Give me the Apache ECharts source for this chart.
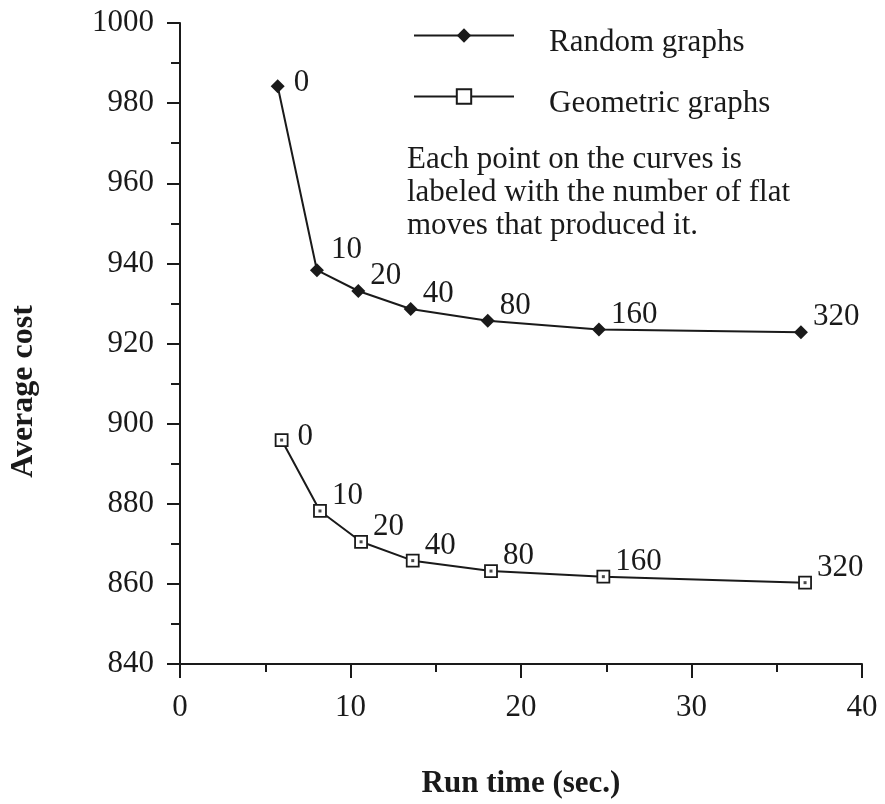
<!DOCTYPE html>
<html>
<head>
<meta charset="utf-8">
<script src="https://cdn.jsdelivr.net/npm/echarts@6/dist/echarts.min.js"></script>
<style>
  html, body { margin: 0; padding: 0; background: #fff; }
  #chart { width: 885px; height: 804px; }
</style>
</head>
<body>
<div id="chart"></div>
<script>
// values
const flatMoves = ["0", "10", "20", "40", "80", "160", "320"];
const randomTime = [5.73, 8.03, 10.46, 13.53, 18.05, 24.57, 36.42];
const randomCost = [984.2, 938.3, 933.1, 928.6, 925.7, 923.5, 922.8];
const geoTime = [5.96, 8.21, 10.62, 13.65, 18.24, 24.83, 36.66];
const geoCost = [895.9, 878.2, 870.5, 865.8, 863.2, 861.8, 860.3];
const xTicks = [0, 10, 20, 30, 40];
const yTicks = [840, 860, 880, 900, 920, 940, 960, 980, 1000];

const ink = "#1a1a1a";
const serif = "Liberation Serif";

function pairs(xs, ys) {
  return xs.map((x, i) => [x, ys[i]]);
}

// little nudges so the numbers sit like in the original
function labelOffset(first, i) {
  if (i === 0) return [4, -3];
  if (first && i === 1) return [2, -20];
  return [0, -15];
}

function labelled(xs, ys, first) {
  return pairs(xs, ys).map((p, i) => ({
    value: p,
    label: { offset: labelOffset(first, i) },
  }));
}

const numLabel = {
  show: true,
  position: "right",
  distance: 5,
  color: ink,
  fontFamily: serif,
  fontSize: 31,
  formatter: (p) => flatMoves[p.dataIndex],
};

let myChart = echarts.init(document.getElementById("chart"));
myChart.setOption({
  animation: false,
  backgroundColor: "#fff",
  title: {
    text: "Each point on the curves is\nlabeled with the number of flat\nmoves that produced it.",
    left: 402,
    top: 138,
    textStyle: {
      fontFamily: serif,
      fontSize: 31,
      fontWeight: "normal",
      color: ink,
      lineHeight: 33,
    },
  },
  legend: {
    orient: "vertical",
    left: 408,
    top: 8,
    itemWidth: 100,
    itemHeight: 18,
    itemGap: 16,
    data: ["Random graphs", "Geometric graphs"],
    formatter: (name) => "{t|" + name + "}",
    textStyle: {
      padding: [0, 0, 0, 30],
      rich: {
        t: {
          fontFamily: serif,
          fontSize: 31,
          color: ink,
          lineHeight: 30,
          padding: [14, 0, 0, 0],
        },
      },
    },
  },
  grid: {
    left: 180,
    right: 23,
    top: 23,
    bottom: 136,
  },
  xAxis: {
    type: "value",
    min: xTicks[0],
    max: xTicks[xTicks.length - 1],
    interval: 10,
    name: "Run time (sec.)",
    nameLocation: "middle",
    nameGap: 104,
    nameTextStyle: {
      fontFamily: serif,
      fontSize: 31,
      fontWeight: "bold",
      color: ink,
    },
    axisLine: { show: true, lineStyle: { color: ink, width: 2 } },
    axisTick: { show: true, length: 14, lineStyle: { color: ink, width: 2 } },
    minorTick: { show: true, splitNumber: 2, length: 8, lineStyle: { color: ink, width: 2 } },
    splitLine: { show: false },
    axisLabel: {
      margin: 28,
      color: ink,
      fontFamily: serif,
      fontSize: 31,
    },
  },
  yAxis: {
    type: "value",
    min: yTicks[0],
    max: yTicks[yTicks.length - 1],
    interval: 20,
    name: "Average cost",
    nameLocation: "middle",
    nameGap: 140,
    nameTextStyle: {
      fontFamily: serif,
      fontSize: 32,
      fontWeight: "bold",
      color: ink,
      padding: [0, 96, 0, 0],
    },
    axisLine: { show: true, lineStyle: { color: ink, width: 2 } },
    axisTick: { show: true, length: 13, lineStyle: { color: ink, width: 2 } },
    minorTick: { show: true, splitNumber: 2, length: 9, lineStyle: { color: ink, width: 2 } },
    splitLine: { show: false },
    axisLabel: {
      margin: 26,
      color: ink,
      fontFamily: serif,
      fontSize: 31,
      formatter: (v) => String(v),
    },
  },
  series: [
    {
      name: "Random graphs",
      type: "line",
      data: labelled(randomTime, randomCost, true),
      symbol: "diamond",
      symbolSize: 14,
      showAllSymbol: true,
      lineStyle: { color: ink, width: 2 },
      itemStyle: { color: ink },
      label: numLabel,
      z: 3,
    },
    {
      name: "Geometric graphs",
      type: "line",
      data: labelled(geoTime, geoCost, false),
      symbol: "rect",
      symbolSize: 12,
      showAllSymbol: true,
      lineStyle: { color: ink, width: 2 },
      itemStyle: { color: "#fff", borderColor: ink, borderWidth: 1.8 },
      label: numLabel,
      z: 3,
    },
    {
      // the small dot inside each hollow square
      name: "geo-dot",
      type: "scatter",
      data: pairs(geoTime, geoCost),
      symbol: "rect",
      symbolSize: 3,
      itemStyle: { color: ink },
      silent: true,
      z: 4,
    },
  ],
});
</script>
</body>
</html>
